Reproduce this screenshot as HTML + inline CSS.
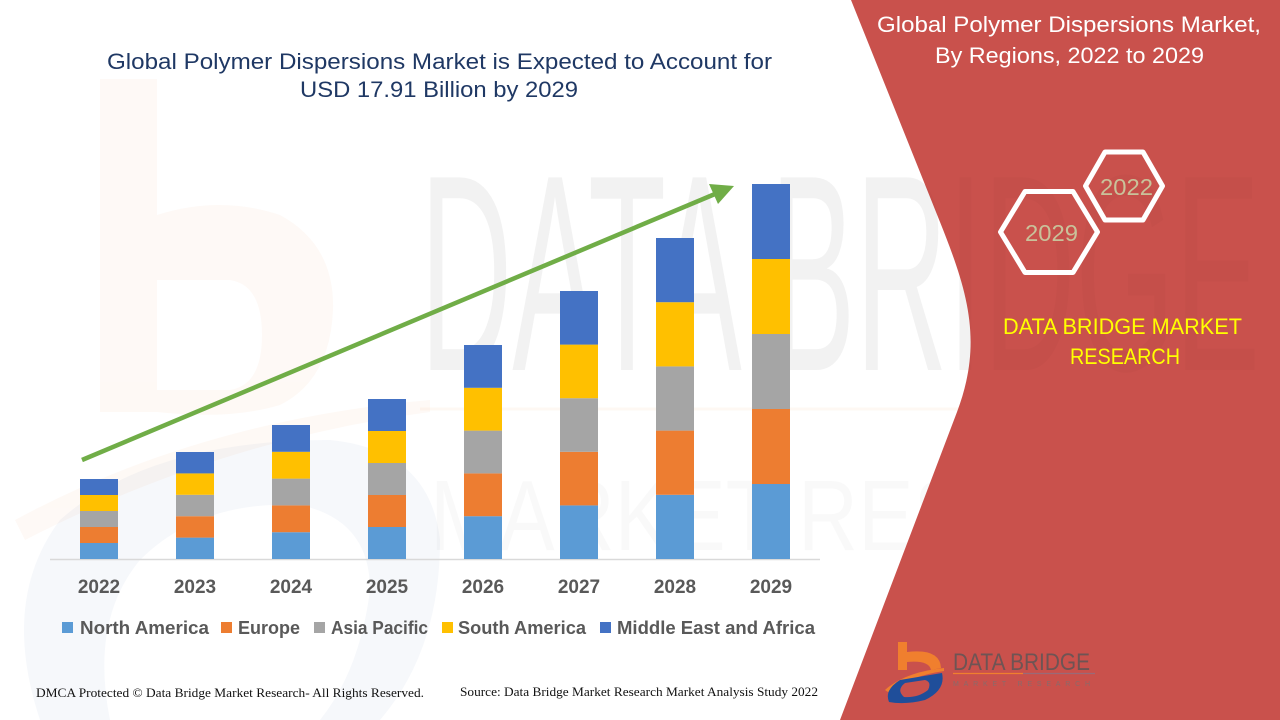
<!DOCTYPE html>
<html>
<head>
<meta charset="utf-8">
<style>
  html,body{margin:0;padding:0;background:#fff;}
  svg{display:block;}
</style>
</head>
<body>
<svg width="1280" height="720" viewBox="0 0 1280 720" xmlns="http://www.w3.org/2000/svg">
  <rect x="0" y="0" width="1280" height="720" fill="#ffffff"/>

  <!-- faint watermark logo on the left -->
  <g opacity="0.045">
    <path d="M100,79 L157,79 L157,215 Q220,195 280,215 Q335,245 333,310 Q330,380 280,405 Q230,420 157,412 L100,412 Z M157,280 L157,390 L230,390 Q262,385 262,335 Q262,285 230,280 Z" fill="#F07F2E" fill-rule="evenodd"/>
    <path d="M15,520 Q200,420 430,400 L430,412 Q220,440 25,540 Z" fill="#F07F2E"/>
  </g>
  <g opacity="0.04">
    <path d="M40,720 Q0,600 60,520 Q150,440 330,440 Q430,450 440,540 Q440,650 380,720 Z M110,720 Q90,620 140,560 Q200,500 300,505 Q370,520 370,590 Q360,670 320,720 Z" fill="#1F4E9A" fill-rule="evenodd"/>
  </g>

  <!-- faint watermark text -->
  <text x="420" y="370" font-family="Liberation Sans, sans-serif" font-size="280" textLength="840" lengthAdjust="spacingAndGlyphs" fill="#000" opacity="0.028">DATA BRIDGE</text>
  <text x="430" y="550" font-family="Liberation Sans, sans-serif" font-size="100" textLength="830" lengthAdjust="spacingAndGlyphs" fill="#000" opacity="0.02">MARKET RESEARCH</text>
  <line x1="420" y1="409" x2="1270" y2="409" stroke="#F07F2E" stroke-width="3" opacity="0.05"/>

  <!-- red panel -->
  <path d="M851,0 L940,222 C968,292 983.4,342 957,412 L840,720 L1280,720 L1280,0 Z" fill="#C9514C"/>
  <text x="420" y="370" font-family="Liberation Sans, sans-serif" font-size="280" textLength="840" lengthAdjust="spacingAndGlyphs" fill="#000" opacity="0.015">DATA BRIDGE</text>

  <!-- main title -->
  <g font-family="Liberation Sans, sans-serif" fill="#1F3864" font-size="22">
    <text x="107" y="69" textLength="665" lengthAdjust="spacingAndGlyphs">Global Polymer Dispersions Market is Expected to Account for</text>
    <text x="300" y="97" textLength="278" lengthAdjust="spacingAndGlyphs">USD 17.91 Billion by 2029</text>
  </g>

  <!-- axis line -->
  <line x1="50" y1="559.5" x2="820" y2="559.5" stroke="#D9D9D9" stroke-width="1.5"/>

  <!-- bars -->
  <g>
    <rect x="80" y="543" width="38" height="16" fill="#5B9BD5"/>
    <rect x="80" y="527" width="38" height="16" fill="#ED7D31"/>
    <rect x="80" y="511" width="38" height="16" fill="#A5A5A5"/>
    <rect x="80" y="495" width="38" height="16" fill="#FFC000"/>
    <rect x="80" y="479" width="38" height="16" fill="#4472C4"/>

    <rect x="176" y="537.6" width="38" height="21.4" fill="#5B9BD5"/>
    <rect x="176" y="516.2" width="38" height="21.4" fill="#ED7D31"/>
    <rect x="176" y="494.8" width="38" height="21.4" fill="#A5A5A5"/>
    <rect x="176" y="473.4" width="38" height="21.4" fill="#FFC000"/>
    <rect x="176" y="452" width="38" height="21.4" fill="#4472C4"/>

    <rect x="272" y="532.2" width="38" height="26.8" fill="#5B9BD5"/>
    <rect x="272" y="505.4" width="38" height="26.8" fill="#ED7D31"/>
    <rect x="272" y="478.6" width="38" height="26.8" fill="#A5A5A5"/>
    <rect x="272" y="451.8" width="38" height="26.8" fill="#FFC000"/>
    <rect x="272" y="425" width="38" height="26.8" fill="#4472C4"/>

    <rect x="368" y="527" width="38" height="32" fill="#5B9BD5"/>
    <rect x="368" y="495" width="38" height="32" fill="#ED7D31"/>
    <rect x="368" y="463" width="38" height="32" fill="#A5A5A5"/>
    <rect x="368" y="431" width="38" height="32" fill="#FFC000"/>
    <rect x="368" y="399" width="38" height="32" fill="#4472C4"/>

    <rect x="464" y="516.2" width="38" height="42.8" fill="#5B9BD5"/>
    <rect x="464" y="473.4" width="38" height="42.8" fill="#ED7D31"/>
    <rect x="464" y="430.6" width="38" height="42.8" fill="#A5A5A5"/>
    <rect x="464" y="387.8" width="38" height="42.8" fill="#FFC000"/>
    <rect x="464" y="345" width="38" height="42.8" fill="#4472C4"/>

    <rect x="560" y="505.4" width="38" height="53.6" fill="#5B9BD5"/>
    <rect x="560" y="451.8" width="38" height="53.6" fill="#ED7D31"/>
    <rect x="560" y="398.2" width="38" height="53.6" fill="#A5A5A5"/>
    <rect x="560" y="344.6" width="38" height="53.6" fill="#FFC000"/>
    <rect x="560" y="291" width="38" height="53.6" fill="#4472C4"/>

    <rect x="656" y="494.8" width="38" height="64.2" fill="#5B9BD5"/>
    <rect x="656" y="430.6" width="38" height="64.2" fill="#ED7D31"/>
    <rect x="656" y="366.4" width="38" height="64.2" fill="#A5A5A5"/>
    <rect x="656" y="302.2" width="38" height="64.2" fill="#FFC000"/>
    <rect x="656" y="238" width="38" height="64.2" fill="#4472C4"/>

    <rect x="752" y="484" width="38" height="75" fill="#5B9BD5"/>
    <rect x="752" y="409" width="38" height="75" fill="#ED7D31"/>
    <rect x="752" y="334" width="38" height="75" fill="#A5A5A5"/>
    <rect x="752" y="259" width="38" height="75" fill="#FFC000"/>
    <rect x="752" y="184" width="38" height="75" fill="#4472C4"/>
  </g>

  <!-- green arrow -->
  <line x1="82" y1="460" x2="715" y2="194" stroke="#70AD47" stroke-width="4.5"/>
  <polygon points="734,186 718,204 709,184" fill="#70AD47"/>

  <!-- year labels -->
  <g font-family="Liberation Sans, sans-serif" font-weight="bold" font-size="19" fill="#595959" text-anchor="middle">
    <text x="99" y="593">2022</text>
    <text x="195" y="593">2023</text>
    <text x="291" y="593">2024</text>
    <text x="387" y="593">2025</text>
    <text x="483" y="593">2026</text>
    <text x="579" y="593">2027</text>
    <text x="675" y="593">2028</text>
    <text x="771" y="593">2029</text>
  </g>

  <!-- legend -->
  <g font-family="Liberation Sans, sans-serif" font-weight="bold" font-size="18" fill="#595959">
    <rect x="62" y="622" width="11" height="11" fill="#5B9BD5"/>
    <text x="80" y="634" textLength="129" lengthAdjust="spacingAndGlyphs">North America</text>
    <rect x="221" y="622" width="11" height="11" fill="#ED7D31"/>
    <text x="238" y="634" textLength="62" lengthAdjust="spacingAndGlyphs">Europe</text>
    <rect x="314" y="622" width="11" height="11" fill="#A5A5A5"/>
    <text x="331" y="634" textLength="97" lengthAdjust="spacingAndGlyphs">Asia Pacific</text>
    <rect x="442" y="622" width="11" height="11" fill="#FFC000"/>
    <text x="458" y="634" textLength="128" lengthAdjust="spacingAndGlyphs">South America</text>
    <rect x="600" y="622" width="11" height="11" fill="#4472C4"/>
    <text x="617" y="634" textLength="198" lengthAdjust="spacingAndGlyphs">Middle East and Africa</text>
  </g>

  <!-- footer -->
  <g font-family="Liberation Serif, serif" font-size="13" fill="#111">
    <text x="36" y="697" textLength="388" lengthAdjust="spacingAndGlyphs">DMCA Protected © Data Bridge Market Research- All Rights Reserved.</text>
    <text x="460" y="696" textLength="358" lengthAdjust="spacingAndGlyphs">Source: Data Bridge Market Research Market Analysis Study 2022</text>
  </g>

  <!-- right panel title -->
  <g font-family="Liberation Sans, sans-serif" font-size="22" fill="#ffffff">
    <text x="877" y="32" textLength="384" lengthAdjust="spacingAndGlyphs">Global Polymer Dispersions Market,</text>
    <text x="935" y="63" textLength="269" lengthAdjust="spacingAndGlyphs">By Regions, 2022 to 2029</text>
  </g>

  <!-- hexagons -->
  <g fill="none" stroke="#ffffff" stroke-width="5" stroke-linejoin="round">
    <polygon points="1085.5,186 1105,152 1143,152 1162.5,186 1143,220 1105,220"/>
    <polygon points="1000.5,232 1025,191.5 1073,191.5 1097.5,232 1073,272.5 1025,272.5"/>
  </g>
  <g font-family="Liberation Sans, sans-serif" font-size="23" fill="#C9C29A">
    <text x="1100" y="195" textLength="53" lengthAdjust="spacingAndGlyphs">2022</text>
    <text x="1025" y="241" textLength="53" lengthAdjust="spacingAndGlyphs">2029</text>
  </g>

  <!-- DATA BRIDGE MARKET RESEARCH -->
  <g font-family="Liberation Sans, sans-serif" font-size="22" fill="#FFFF00">
    <text x="1003" y="334" textLength="239" lengthAdjust="spacingAndGlyphs">DATA BRIDGE MARKET</text>
    <text x="1070" y="364" textLength="110" lengthAdjust="spacingAndGlyphs">RESEARCH</text>
  </g>

  <!-- bottom logo -->
  <g>
    <rect x="898" y="642" width="9" height="28" fill="#F07F2E"/>
    <path d="M907,652 Q940,648 941,668 L931,670 Q929,660 907,662 Z" fill="#F07F2E"/>
    <path d="M885,690 Q905,672 944,668 L944,671 Q910,676 888,692 Z" fill="#F07F2E"/>
    <path d="M889,702 Q884,690 900,680 L942,673 Q946,690 925,700 Q905,705 889,702 Z M904,697 Q918,698 928,690 Q932,682 925,680 L905,683 Q896,690 904,697 Z" fill="#1F4E9A" fill-rule="evenodd"/>
    <text x="953" y="670" font-family="Liberation Sans, sans-serif" font-size="24" fill="#6E5454" textLength="137" lengthAdjust="spacingAndGlyphs">DATA BRIDGE</text>
    <line x1="953" y1="673.5" x2="1023" y2="673.5" stroke="#F07F2E" stroke-width="1.2"/>
    <line x1="1023" y1="673.5" x2="1095" y2="673.5" stroke="#9A6A78" stroke-width="1.2"/>
    <text x="953" y="686" font-family="Liberation Sans, sans-serif" font-size="7" fill="#8A6A6A" textLength="137" lengthAdjust="spacing">MARKET RESEARCH</text>
  </g>
</svg>
</body>
</html>
